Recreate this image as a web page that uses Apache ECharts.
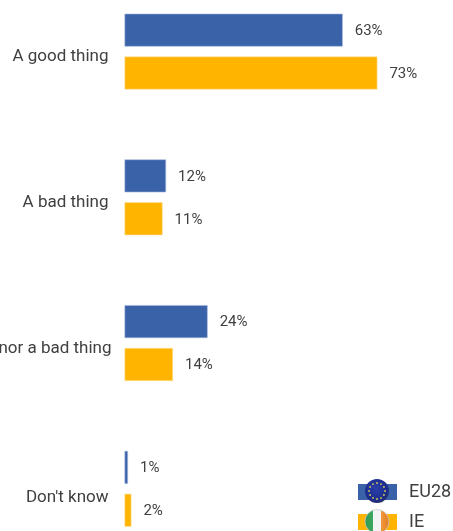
<!DOCTYPE html>
<html>
<head>
<meta charset="utf-8">
<style>html,body{margin:0;padding:0;background:#fff;overflow:hidden}#c{width:453px;height:531px}</style>
<script src="https://cdn.jsdelivr.net/npm/echarts@6/dist/echarts.min.js"></script>
</head>
<body>
<div id="c"></div>
<script>
const categories = ["A good thing", "A bad thing", "Neither a good nor a bad thing", "Don't know"];
const eu28Values = [63, 12, 24, 1];
const ieValues = [73, 11, 14, 2];
const seriesNames = ["EU28", "IE"];

const chart = echarts.init(document.getElementById('c'), null, {renderer: 'canvas'});

const euX = 377, euY = 491, ieY = 521.5, r = 12;
const stars = [];
for (let i = 0; i < 12; i++) {
  const a = i * Math.PI / 6;
  stars.push({type: 'circle', z: 101, silent: true,
    shape: {cx: euX + Math.cos(a) * 8, cy: euY + Math.sin(a) * 8, r: 0.9},
    style: {fill: '#D9CE55'}});
}
const txt = '#404040';
const font = 'Roboto';
const legendBase = {
  orient: 'horizontal', left: 358, itemWidth: 39, itemHeight: 16, selectedMode: false, icon: 'rect',
  itemStyle: {borderWidth: 0}, padding: 0,
  textStyle: {color: txt, fontFamily: font, fontSize: 18, padding: [0, 0, 0, 7]}
};
const labelLines = [11, 11, 11, 17];
const labelRight = [0, 0, -3, 0];
const valueLabel = {show: true, position: 'right', distance: 12, offset: [0, 1], formatter: '{c}%', color: txt,
  fontFamily: font, fontSize: 15};
chart.setOption({
  animation: false,
  grid: {left: 124.5, top: -21.3, width: 311.8, height: 583, containLabel: false, outerBoundsMode: 'none'},
  xAxis: {type: 'value', min: 0, max: 90, show: false},
  yAxis: {
    type: 'category',
    data: categories.map((c, i) => ({value: c, textStyle: {verticalAlign: 'top', lineHeight: labelLines[i], padding: [0, labelRight[i], 0, 0]}})),
    inverse: true,
    axisLine: {show: false}, axisTick: {show: false},
    axisLabel: {
      margin: 16, color: txt, fontFamily: font, fontSize: 17,
      overflow: 'none', hideOverlap: false
    }
  },
  legend: [
    Object.assign({}, legendBase, {top: 483, data: [seriesNames[0]]}),
    Object.assign({}, legendBase, {top: 513, data: [seriesNames[1]]})
  ],
  series: [
    {name: seriesNames[0], type: 'bar', data: eu28Values, barWidth: 33, barGap: '30%',
     itemStyle: {color: '#3A62A9', borderColor: '#A9BCDD', borderWidth: 0.6},
     label: valueLabel},
    {name: seriesNames[1], type: 'bar', data: ieValues, barWidth: 33,
     itemStyle: {color: '#FFB400', borderColor: '#FFE0A0', borderWidth: 0.6},
     label: valueLabel}
  ],
  graphic: [
    {type: 'circle', z: 100, silent: true, shape: {cx: euX, cy: euY, r: r},
     style: {fill: new echarts.graphic.RadialGradient(0.45, 0.4, 0.6, [
       {offset: 0, color: '#2A3FA8'}, {offset: 0.8, color: '#1C2C8C'}, {offset: 1, color: '#26306A'}])}},
    ...stars,
    {type: 'circle', z: 100, silent: true, shape: {cx: euX, cy: ieY, r: r},
     style: {fill: new echarts.graphic.LinearGradient(0, 0, 1, 0, [
       {offset: 0, color: '#2E9A4E'}, {offset: 0.33, color: '#3FA860'},
       {offset: 0.33, color: '#F4F4F4'}, {offset: 0.66, color: '#F4F4F4'},
       {offset: 0.66, color: '#F39A3C'}, {offset: 1, color: '#E07A20'}]),
       stroke: '#C9C9C9', lineWidth: 0.8}}
  ]
});
</script>
</body>
</html>
